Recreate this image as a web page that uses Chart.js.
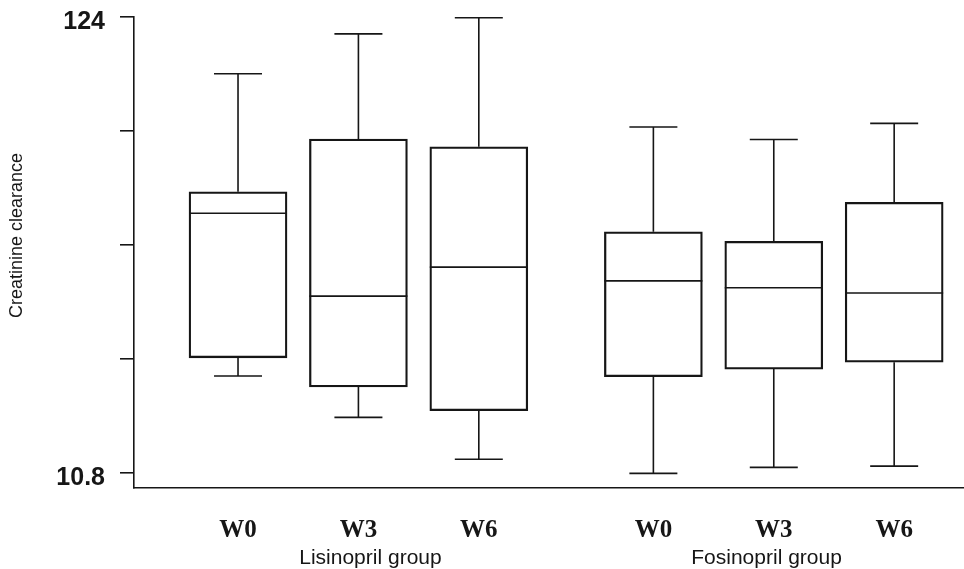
<!DOCTYPE html>
<html>
<head>
<meta charset="utf-8">
<script src="https://cdn.jsdelivr.net/npm/chart.js@4/dist/chart.umd.min.js"></script>
<style>
  html, body { margin: 0; padding: 0; background: #ffffff; }
  #wrap { width: 964px; height: 569px; position: relative; }
</style>
</head>
<body>
<div id="wrap"><canvas id="c" width="964" height="569"></canvas></div>
<script>
// ---- data ----
const groups = ['Lisinopril group', 'Fosinopril group'];
const weeks = ['W0', 'W3', 'W6'];
// per box, order: Lisinopril W0, W3, W6, Fosinopril W0, W3, W6
const whiskerMax = [109.9, 119.8, 123.8, 96.7, 93.6, 97.6];
const q3Values   = [80.6, 93.7, 91.8, 70.7, 68.3, 78.0];
const medians    = [75.3, 54.7, 61.9, 58.5, 56.8, 55.5];
const q1Values   = [39.4, 32.2, 26.3, 34.7, 36.6, 38.3];
const whiskerMin = [34.9, 24.6, 14.2, 10.7, 12.2, 12.5];
const yTickValues = [10.8, 39.1, 67.4, 95.7, 124];
const yTickLabels = ['10.8', '', '', '', '124'];
const yTitle = 'Creatinine clearance';

// ---- layout helpers (not data) ----
const GROUP_GAP = 1.45;
const positions = [];
const tickLabels = [];
groups.forEach((g, gi) => weeks.forEach((w, wi) => {
  positions.push(gi * (weeks.length - 1 + GROUP_GAP) + wi);
  tickLabels.push(w);
}));
const groupCenters = groups.map((g, gi) => gi * (weeks.length - 1 + GROUP_GAP) + (weeks.length - 1) / 2 + (gi === 0 ? 0.1 : -0.06));

const INK = '#161616';
const LINE_W = 1.6;
const BOX_PX = 98;
const CAP_PX = 48;

const boxData = positions.map((p, i) => ({ x: p, y: [q1Values[i], q3Values[i]] }));

const boxPlugin = {
  id: 'boxWhiskers',
  afterDatasetsDraw(chart) {
    const { ctx, scales } = chart;
    const xs = scales.x, ys = scales.y;
    ctx.save();
    ctx.strokeStyle = INK;
    ctx.lineWidth = LINE_W;
    positions.forEach((p, i) => {
      const cx = xs.getPixelForValue(p);
      const yMax = ys.getPixelForValue(whiskerMax[i]);
      const yQ3 = ys.getPixelForValue(q3Values[i]);
      const yMed = ys.getPixelForValue(medians[i]);
      const yQ1 = ys.getPixelForValue(q1Values[i]);
      const yMin = ys.getPixelForValue(whiskerMin[i]);
      ctx.beginPath();
      ctx.moveTo(cx, yQ3); ctx.lineTo(cx, yMax);
      ctx.moveTo(cx - CAP_PX / 2, yMax); ctx.lineTo(cx + CAP_PX / 2, yMax);
      ctx.moveTo(cx, yQ1); ctx.lineTo(cx, yMin);
      ctx.moveTo(cx - CAP_PX / 2, yMin); ctx.lineTo(cx + CAP_PX / 2, yMin);
      ctx.moveTo(cx - BOX_PX / 2, yMed); ctx.lineTo(cx + BOX_PX / 2, yMed);
      ctx.stroke();
    });
    ctx.restore();
  },
  afterDraw(chart) {
    const { ctx, chartArea } = chart;
    ctx.save();
    ctx.translate(17, (chartArea.top + chartArea.bottom) / 2 - 17);
    ctx.rotate(-Math.PI / 2);
    ctx.fillStyle = INK;
    ctx.font = '18px "Liberation Sans", Arial, sans-serif';
    ctx.textAlign = 'center';
    ctx.textBaseline = 'middle';
    ctx.fillText(yTitle, 0, 0);
    ctx.restore();
  }
};

new Chart(document.getElementById('c'), {
  type: 'bar',
  data: {
    datasets: [{
      data: boxData,
      backgroundColor: 'rgba(255,255,255,0)',
      borderColor: INK,
      borderWidth: LINE_W,
      borderSkipped: false,
      barThickness: BOX_PX,
      xAxisID: 'x',
      yAxisID: 'y'
    }]
  },
  options: {
    responsive: false,
    animation: false,
    events: [],
    layout: { padding: { left: 0, right: 0, top: 17, bottom: 0 } },
    plugins: { legend: { display: false }, tooltip: { enabled: false } },
    scales: {
      x: {
        type: 'linear',
        position: 'bottom',
        min: -0.864,
        max: 6.03,
        offset: false,
        grid: { display: false, drawTicks: false, tickLength: 0 },
        border: { display: true, color: INK, width: LINE_W },
        afterBuildTicks(scale) { scale.ticks = positions.map(v => ({ value: v })); },
        afterFit(scale) { scale.height = 57; scale.paddingLeft = 0; scale.paddingRight = 0; },
        ticks: {
          autoSkip: false,
          maxRotation: 0,
          padding: 28,
          color: INK,
          font: { family: '"Liberation Serif", "Times New Roman", serif', size: 25, weight: 'bold' },
          callback(value, index) { return tickLabels[index]; }
        }
      },
      x2: {
        type: 'linear',
        position: 'bottom',
        min: -0.864,
        max: 6.03,
        offset: false,
        grid: { display: false, drawTicks: false, tickLength: 0 },
        border: { display: false },
        afterBuildTicks(scale) { scale.ticks = groupCenters.map(v => ({ value: v })); },
        afterFit(scale) { scale.height = 24; scale.paddingLeft = 0; scale.paddingRight = 0; },
        ticks: {
          autoSkip: false,
          maxRotation: 0,
          padding: 1,
          color: INK,
          font: { family: '"Liberation Sans", Arial, sans-serif', size: 21 },
          callback(value, index) { return groups[index]; }
        }
      },
      y: {
        type: 'linear',
        position: 'left',
        min: 7.08,
        max: 124,
        grid: { display: true, drawOnChartArea: false, drawTicks: true, tickLength: 14, color: INK, lineWidth: LINE_W },
        border: { display: true, color: INK, width: LINE_W },
        afterBuildTicks(scale) { scale.ticks = yTickValues.map(v => ({ value: v })); },
        afterFit(scale) { scale.width = 134; scale.paddingTop = 0; scale.paddingBottom = 0; },
        title: { display: false },
        ticks: {
          autoSkip: false,
          padding: 15,
          labelOffset: 5,
          color: INK,
          font: { family: '"Liberation Sans", Arial, sans-serif', size: 25, weight: 'bold' },
          callback(value, index) { return yTickLabels[index]; }
        }
      }
    }
  },
  plugins: [boxPlugin]
});
</script>
</body>
</html>
